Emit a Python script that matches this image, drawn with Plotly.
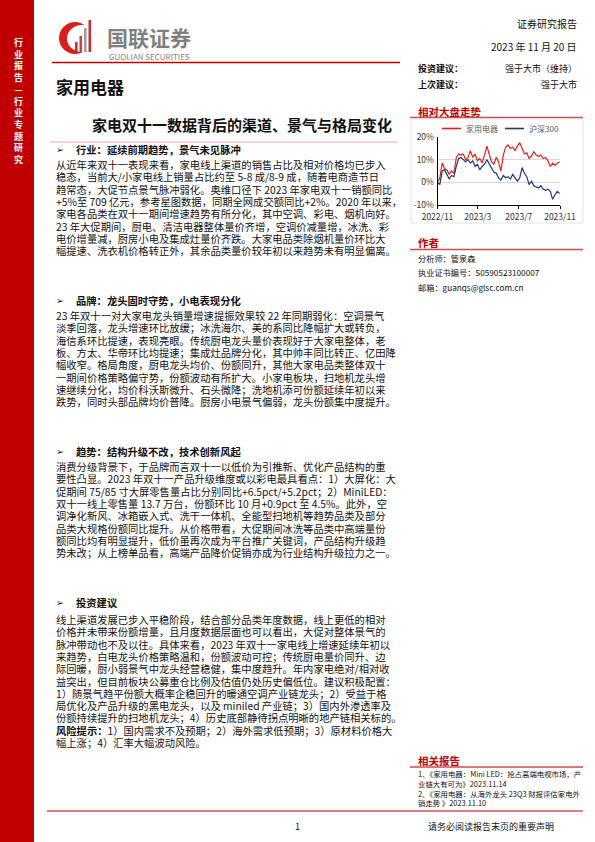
import pandas as pd
import plotly.graph_objects as go

# Page geometry (the reference is a 595x842 report page)
W, H = 595, 842
FONT = "Noto Sans CJK SC, DejaVu Sans"
DARK_RED = "#C00000"
LINE_RED = "#E3211E"
NAVY = "#1F3A6E"

# Chart data: relative performance, weekly from 2022/11/20
DATES = pd.date_range("2022-11-20", periods=53, freq="7D")
JIADIAN = [0, 2, 8.5, 6, 5.5, 3.5, 5, 4, 11, 12.5, 12, 12.5, 10, 11, 14, 11, 12.5, 9.5,
           10.5, 8.5, 12, 16, 12.5, 9, 8, 11, 9, 5, 12, 15.5, 16.5, 15, 15.5, 14, 16,
           17.5, 15, 12.5, 13, 10.5, 11.5, 13.5, 12, 11.5, 12, 10.5, 11, 9.5, 7, 8.5,
           7.5, 8.5, 9]
HS300 = [0, -1, 5, 5.5, 3.5, 1.5, 3, 2.5, 7, 10.5, 11, 10, 9, 10, 8.5, 9.5, 7, 8, 5.5,
         7, 8, 10, 8, 6, 4.5, 4, 2, 1, 3, 2, 2.5, 1.5, 3.5, 2, 0.5, 2, 6.5, 4, 2.5, -1,
         0.5, -1.5, -2, -2.5, -1.5, -3, -3.5, -3, -4, -7.5, -5.5, -4, -5]
SERIES_NAMES = ["家用电器", "沪深300"]
X_TICKS = ["2022-11-20", "2023-03-20", "2023-07-20", "2023-11-20"]
X_LABELS = ["2022/11", "2023/3", "2023/7", "2023/11"]
Y_TICKS = [-10, 0, 10, 20]
Y_LABELS = ["-10%", "0%", "10%", "20%"]

# Report text
SIDEBAR = list("行业报告—行业专题研究")
S1_HEAD = "行业：延续前期趋势，景气未见脉冲"
S1 = [
    "从近年来双十一表现来看，家电线上渠道的销售占比及相对价格均已步入",
    "稳态，当前大/小家电线上销量占比约至 5-8 成/8-9 成，随着电商造节日",
    "趋常态，大促节点景气脉冲弱化。奥维口径下 2023 年家电双十一销额同比",
    "+5%至 709 亿元，参考星图数据，同期全网成交额同比+2%。2020 年以来，",
    "家电各品类在双十一期间增速趋势有所分化，其中空调、彩电、烟机向好。",
    "23 年大促期间，厨电、清洁电器整体量价齐增，空调价减量增，冰洗、彩",
    "电价增量减，厨房小电及集成灶量价齐跌。大家电品类除烟机量价环比大",
    "幅提速、洗衣机价格转正外，其余品类量价较年初以来趋势未有明显偏离。",
]
S2_HEAD = "品牌：龙头固时守势，小电表现分化"
S2 = [
    "23 年双十一对大家电龙头销量增速提振效果较 22 年同期弱化：空调景气",
    "淡季回落，龙头增速环比放缓；冰洗海尔、美的系同比降幅扩大或转负，",
    "海信系环比提速，表现亮眼。传统厨电龙头量价表现好于大家电整体，老",
    "板、方太、华帝环比均提速；集成灶品牌分化，其中帅丰同比转正、亿田降",
    "幅收窄。格局角度，厨电龙头均价、份额同升，其他大家电品类整体双十",
    "一期间价格策略偏守势，份额波动有所扩大。小家电板块，扫地机龙头增",
    "速继续分化，均价科沃斯微升、石头微降；洗地机添可份额延续年初以来",
    "跌势，同时头部品牌均价普降。厨房小电景气偏弱，龙头份额集中度提升。",
]
S3_HEAD = "趋势：结构升级不改，技术创新风起"
S3 = [
    "消费分级背景下，于品牌而言双十一以低价为引推新、优化产品结构的重",
    "要性凸显。2023 年双十一产品升级维度或以彩电最具看点：1）大屏化：大",
    "促期间 75/85 寸大屏零售量占比分别同比+6.5pct/+5.2pct；2）MiniLED：",
    "双十一线上零售量 13.7 万台，份额环比 10 月+0.9pct 至 4.5%。此外，空",
    "调净化新风、冰箱嵌入式、洗干一体机、全能型扫地机等趋势品类及部分",
    "品类大规格份额同比提升。从价格带看，大促期间冰洗等品类中高端量份",
    "额同比均有明显提升，低价虽再次成为平台推广关键词，产品结构升级趋",
    "势未改；从上榜单品看，高端产品降价促销亦成为行业结构升级拉力之一。",
]
S4_HEAD = "投资建议"
S4 = [
    "线上渠道发展已步入平稳阶段，结合部分品类年度数据，线上更低的相对",
    "价格并未带来份额增量，且月度数据层面也可以看出，大促对整体景气的",
    "脉冲带动也不及以往。具体来看，2023 年双十一家电线上增速延续年初以",
    "来趋势，白电龙头价格策略温和，份额波动可控；传统厨电量价同升、边",
    "际回暖，厨小弱景气中龙头经营稳健，集中度趋升。年内家电绝对/相对收",
    "益突出，但目前板块公募重仓比例及估值仍处历史偏低位。建议积极配置：",
    "1）随景气趋平份额大概率企稳回升的暖通空调产业链龙头；2）受益于格",
    "局优化及产品升级的黑电龙头，以及 miniled 产业链；3）国内外渗透率及",
    "份额持续提升的扫地机龙头；4）历史底部静待拐点明晰的地产链相关标的。",
    "<b>风险提示：</b>1）国内需求不及预期；2）海外需求低预期；3）原材料价格大",
    "幅上涨；4）汇率大幅波动风险。",
]
AUTHOR = ["分析师：管泉森", "执业证书编号：S0590523100007", "邮箱：guanqs@glsc.com.cn"]
RELATED = [
    "1、《家用电器：Mini LED：抢占高端电视市场，产",
    "业链大有可为》2023.11.14",
    "2、《家用电器：从海外龙头 23Q3 财报评估家电外",
    "销走势 》2023.11.10",
]


def px(x):
    return x / W


def py(y):
    return 1 - y / H


annotations = []
shapes = []


def text(x, y, s, size=10.3, color="#111111", bold=False, anchor="left"):
    annotations.append(dict(
        x=px(x), y=py(y), xref="paper", yref="paper",
        text=f"<b>{s}</b>" if bold else s, showarrow=False,
        xanchor=anchor, yanchor="middle", borderpad=0, align=anchor,
        font=dict(size=size, color=color, family=FONT),
    ))


def paragraph(x, y_first, lines, step, glyph_size, color="#111111"):
    # one block per paragraph: line pitch comes from the outer size (1.3em),
    # glyphs are drawn at glyph_size so the tight leading of the source is kept
    body = "<br>".join(f'<span style="font-size:{glyph_size}px">{ln}</span>' for ln in lines)
    y_mid = y_first + (len(lines) - 1) * step / 2
    text(x, y_mid, body, size=step / 1.3, color=color)


def hline(x0, x1, y, color=DARK_RED, width=1.5):
    shapes.append(dict(type="line", xref="paper", yref="paper",
                       x0=px(x0), x1=px(x1), y0=py(y), y1=py(y),
                       line=dict(color=color, width=width)))


def rect(x0, y0, x1, y1, fill=None, line=None, layer="above"):
    shapes.append(dict(type="rect", xref="paper", yref="paper", layer=layer,
                       x0=px(x0), x1=px(x1), y0=py(y0), y1=py(y1),
                       fillcolor=fill or "rgba(0,0,0,0)",
                       line=dict(width=0.8 if line else 0, color=line or "rgba(0,0,0,0)")))


# left red sidebar with vertical label
rect(0, 0, 34, H, fill=DARK_RED, layer="below")
text(18, 100.5, "<br>".join(SIDEBAR), size=9, color="white", bold=True, anchor="center")

# logo
shapes.append(dict(type="circle", xref="paper", yref="paper", x0=px(59), x1=px(91),
                   y0=py(54), y1=py(22), fillcolor="#D7201C", line=dict(width=0)))
shapes.append(dict(type="circle", xref="paper", yref="paper", x0=px(67), x1=px(97),
                   y0=py(52), y1=py(25), fillcolor="white", line=dict(width=0)))
for bx, top, col in [(75, 42, "#C9302C"), (79.5, 36, "#B84A48"), (84, 28, "#A0A0A0"), (88.5, 20, "#C9302C")]:
    rect(bx, top, bx + 2.6, 52, fill=col)
text(106, 37, "国联证券", size=21, color="#7F7F7F", bold=True)
text(108, 56.5, "GUOLIAN SECURITIES", size=8, color="#7F7F7F")
hline(52, 400, 62.5)

# header right block
text(578, 24, "证券研究报告", size=10, anchor="right")
text(578, 47, "2023 年 11 月 20 日", size=10, anchor="right")
text(417, 68, "投资建议：", size=9, bold=True)
text(578, 68, "强于大市（维持）", size=9, anchor="right")
text(417, 84, "上次建议：", size=9, bold=True)
text(578, 84, "强于大市", size=9, anchor="right")

# titles
text(55, 86, "家用电器", size=17, bold=True)
text(242, 124, "家电双十一数据背后的渠道、景气与格局变化", size=15, bold=True, anchor="center")
hline(50, 397, 142, color="#E8A3A3", width=1.2)

# body sections
STEP = 12.3
for head, lines, y_head, gap in [(S1_HEAD, S1, 149, 15), (S2_HEAD, S2, 300, 15),
                                 (S3_HEAD, S3, 451, 15), (S4_HEAD, S4, 602, 17)]:
    text(55, y_head, "➢", size=9.5)
    text(75, y_head, head, size=10.3, bold=True)
    paragraph(55, y_head + gap, lines, STEP, 10.3)

# chart panel
text(417, 111, "相对大盘走势", size=10.5, color=DARK_RED, bold=True)
hline(410, 583, 117.5, color="#D24B4B", width=1.5)
rect(411, 119, 583, 223, line="#DDDDDD")

# legend drawn like the source (short line + label)
for (x0, name, col) in [(442, SERIES_NAMES[0], LINE_RED), (505, SERIES_NAMES[1], NAVY)]:
    hline(x0, x0 + 19, 128.5, color=col, width=1.6)
    text(x0 + 23, 128.5, name, size=8, color="#595959")

# author panel
text(417, 242, "作者", size=10.5, color=DARK_RED, bold=True)
hline(410, 583, 249.5, color="#D24B4B", width=1.5)
for i, line in enumerate(AUTHOR):
    text(417, 258 + i * 14.3, line, size=8.2)

# related reports
text(417, 760, "相关报告", size=10.5, color=DARK_RED, bold=True)
hline(410, 583, 767, color="#D24B4B", width=1.5)
for i, line in enumerate(RELATED):
    text(417, 773.5 + i * 9.8, line, size=7.4)
hline(47, 583, 811, color=DARK_RED, width=1.2)

# footer
text(297, 826, "1", size=9, anchor="center")
text(427, 826, "请务必阅读报告末页的重要声明", size=9)

fig = go.Figure()
fig.add_trace(go.Scatter(x=DATES, y=JIADIAN, name=SERIES_NAMES[0], mode="lines",
                         line=dict(color=LINE_RED, width=1.2)))
fig.add_trace(go.Scatter(x=DATES, y=HS300, name=SERIES_NAMES[1], mode="lines",
                         line=dict(color=NAVY, width=1.2)))

fig.update_layout(
    width=W, height=H,
    margin=dict(l=0, r=0, t=0, b=0),
    paper_bgcolor="white", plot_bgcolor="white",
    font=dict(family=FONT, color="#333333"),
    showlegend=False,
    xaxis=dict(domain=[px(437.5), px(560)], type="date", automargin=False,
               range=[X_TICKS[0], X_TICKS[-1]], tickvals=X_TICKS, ticktext=X_LABELS,
               showline=True, linecolor="#000000", linewidth=0.8, ticks="outside",
               ticklen=3, tickcolor="#000000", showgrid=False, zeroline=False,
               ticklabelstandoff=1,
               tickfont=dict(size=8.5, color="#333333")),
    yaxis=dict(domain=[py(205), py(137)], range=[-10, 20], tickvals=Y_TICKS,
               ticktext=Y_LABELS, showline=True, linecolor="#000000", linewidth=0.8,
               automargin=False, ticks="", showgrid=True, gridcolor="#D9D9D9",
               gridwidth=0.6, zeroline=False, ticklabelstandoff=1,
               tickfont=dict(size=8.5, color="#333333")),
    annotations=annotations,
    shapes=shapes,
)

fig.write_html("out.html", config={"displayModeBar": False},
               post_script="document.body.style.margin='0';")
